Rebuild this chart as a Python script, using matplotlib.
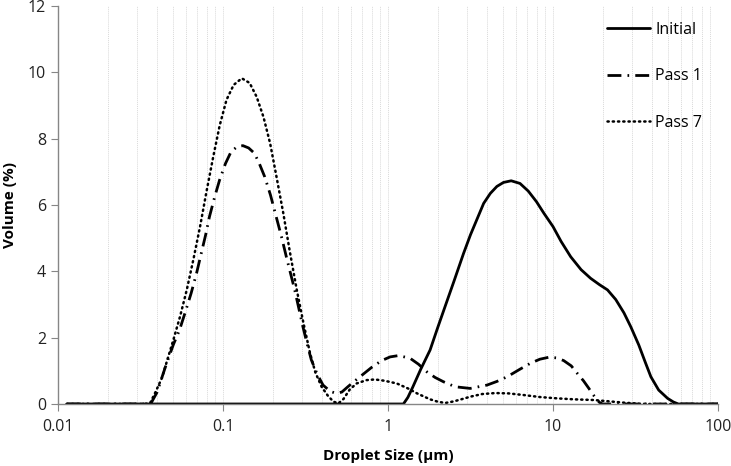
import matplotlib
matplotlib.use("Agg")
import matplotlib.pyplot as plt
from matplotlib.ticker import LogLocator, NullFormatter, FixedLocator

plt.rcParams['font.family'] = ['Open Sans', 'DejaVu Sans']

# --- data (size in um, volume in %)
initial_size = [0.0113, 0.5, 1.0, 1.24, 1.32, 1.41, 1.58, 1.80, 2.0, 2.24, 2.51, 2.87,
                3.16, 3.55, 3.80, 4.17, 4.57, 5.01, 5.58, 6.31, 7.08, 7.94, 8.81, 10.0,
                11.2, 12.8, 14.8, 16.9, 19.1, 21.4, 24.0, 26.9, 29.6, 33.1, 36.3, 39.2,
                43.7, 49.5, 53.7, 57.5, 70.0, 100.0]
initial_vol = [0.0, 0.0, 0.0, 0.0, 0.2, 0.5, 1.05, 1.63, 2.3, 3.0, 3.7, 4.54,
               5.1, 5.7, 6.05, 6.35, 6.56, 6.68, 6.73, 6.65, 6.42, 6.1, 5.75, 5.35,
               4.9, 4.44, 4.05, 3.79, 3.6, 3.44, 3.15, 2.75, 2.33, 1.78, 1.25, 0.82,
               0.42, 0.17, 0.06, 0.0, 0.0, 0.0]

pass1_size = [0.0113, 0.0339, 0.0366, 0.0398, 0.0452, 0.0501, 0.0545, 0.0589, 0.0641,
              0.0692, 0.0738, 0.0785, 0.0828, 0.0891, 0.0953, 0.1035, 0.112, 0.122,
              0.132, 0.143, 0.155, 0.166, 0.179, 0.194, 0.210, 0.226, 0.242, 0.272,
              0.305, 0.324, 0.343, 0.372, 0.404, 0.447, 0.486, 0.525, 0.571, 0.631,
              0.676, 0.794, 0.916, 1.03, 1.157, 1.36, 1.53, 1.72, 1.93, 2.17, 2.55,
              3.15, 3.98, 4.57, 5.27, 6.31, 7.31, 8.32, 9.44, 10.5, 11.6, 12.9, 14.0,
              15.3, 16.5, 17.4, 18.2, 19.1, 20.0, 40.0, 100.0]
pass1_vol = [0.0, 0.0, 0.02, 0.35, 1.18, 1.8, 2.23, 2.75, 3.34,
             3.95, 4.54, 5.1, 5.65, 6.25, 6.75, 7.25, 7.61, 7.76,
             7.79, 7.72, 7.56, 7.25, 6.85, 6.3, 5.65, 5.05, 4.44, 3.44,
             2.33, 1.8, 1.33, 0.9, 0.57, 0.38, 0.32, 0.36, 0.52, 0.7,
             0.82, 1.1, 1.31, 1.42, 1.46, 1.38, 1.2, 0.97, 0.8, 0.67, 0.52,
             0.47, 0.57, 0.68, 0.82, 1.05, 1.23, 1.35, 1.41, 1.39, 1.31, 1.15, 0.93,
             0.7, 0.47, 0.3, 0.17, 0.05, 0.0, 0.0, 0.0]

pass7_size = [0.0113, 0.033, 0.0361, 0.0389, 0.0426, 0.0461, 0.050, 0.055, 0.0603,
              0.0661, 0.0726, 0.0794, 0.0873, 0.0955, 0.105, 0.116, 0.130, 0.145,
              0.160, 0.176, 0.193, 0.211, 0.232, 0.254, 0.280, 0.307, 0.337, 0.363,
              0.396, 0.432, 0.467, 0.501, 0.537, 0.587, 0.646, 0.741, 0.834, 0.955,
              1.13, 1.32, 1.50, 1.80, 2.0, 2.22, 2.51, 2.82, 3.15, 3.72, 4.47, 5.37,
              6.65, 8.32, 10.6, 13.5, 17.7, 21.9, 26.9, 33.1, 38.9, 100.0]
pass7_vol = [0.0, 0.0, 0.02, 0.35, 0.78, 1.35, 1.93, 2.65, 3.44,
             4.35, 5.35, 6.4, 7.46, 8.4, 9.17, 9.62, 9.82, 9.68,
             9.26, 8.65, 7.86, 6.85, 5.75, 4.6, 3.44, 2.45, 1.53, 0.95,
             0.52, 0.25, 0.07, 0.02, 0.15, 0.44, 0.62, 0.72, 0.74, 0.7,
             0.62, 0.47, 0.32, 0.14, 0.07, 0.03, 0.08, 0.15, 0.22, 0.3, 0.33, 0.32,
             0.27, 0.21, 0.17, 0.14, 0.12, 0.08, 0.04, 0.01, 0.0, 0.0]

series_names = ["Initial", "Pass 1", "Pass 7"]

fig = plt.figure(figsize=(7.31, 4.66), dpi=100)
ax = fig.add_axes([58 / 731, 62 / 466, 660 / 731, 398 / 466])

ax.plot(initial_size, initial_vol, color="black", lw=2.0, label=series_names[0],
        solid_capstyle="round", solid_joinstyle="round")
ax.plot(pass1_size, pass1_vol, color="black", lw=2.0, label=series_names[1],
        linestyle=(0, (5.0, 2.2, 0.6, 2.2)), dash_capstyle="butt")
ax.plot(pass7_size, pass7_vol, color="black", lw=1.8, label=series_names[2],
        linestyle=(0, (0.5, 1.6)), dash_capstyle="round")

ax.set_xscale("log")
ax.set_xlim(0.01, 100)
ax.set_ylim(0, 12)
ax.set_yticks(range(0, 13, 2))
ax.xaxis.set_major_locator(FixedLocator([0.01, 0.1, 1, 10, 100]))
ax.set_xticklabels(["0.01", "0.1", "1", "10", "100"])
ax.xaxis.set_minor_locator(LogLocator(base=10, subs=range(2, 10)))
ax.xaxis.set_minor_formatter(NullFormatter())
ax.tick_params(axis="x", which="minor", length=0)
ax.tick_params(axis="both", which="major", length=5, color="#868686", labelsize=11.5,
               labelcolor="#222222")
ax.tick_params(axis="x", pad=6)

ax.grid(True, axis="x", which="both", color="#d9d9d9", lw=0.7, linestyle=(0, (1, 1)))
ax.set_axisbelow(True)

for side in ["top", "right"]:
    ax.spines[side].set_visible(False)
for side in ["left", "bottom"]:
    ax.spines[side].set_color("#868686")
    ax.spines[side].set_linewidth(1.0)

ax.set_xlabel("Droplet Size (\u00b5m)", fontsize=11, fontweight="bold", labelpad=10)
ax.set_ylabel("Volume (%)", fontsize=11, fontweight="bold", labelpad=8)

leg = ax.legend(loc="upper right", bbox_to_anchor=(1.0, 1.0), frameon=False,
                fontsize=11.5, handlelength=2.7, labelspacing=1.9, handletextpad=0.3,
                borderaxespad=0.6)

fig.savefig("out.png", dpi=100)
